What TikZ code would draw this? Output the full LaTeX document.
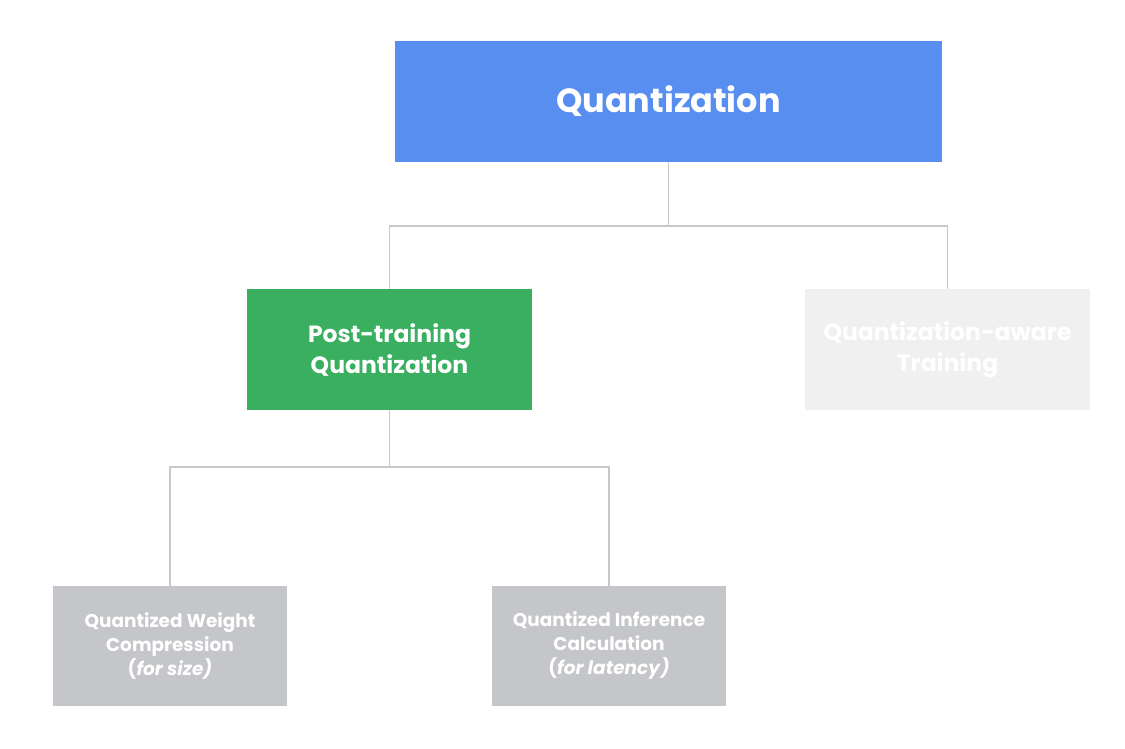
\documentclass[tikz,border=0pt]{standalone}
\usepackage{fontspec}
\setmainfont{Poppins}
\begin{document}
\begin{tikzpicture}[x=1pt,y=-1pt,
  box/.style={rectangle, inner sep=0pt, text=white, align=center, font=\bfseries},
  conn/.style={draw=linegray, line width=1.3pt}]
\definecolor{qblue}{HTML}{578EF0}
\definecolor{qgreen}{HTML}{3AAF5F}
\definecolor{qlight}{HTML}{F0F0F0}
\definecolor{qgray}{HTML}{C5C6C9}
\definecolor{linegray}{HTML}{C8C8C8}
\useasboundingbox[fill=white] (0,0) rectangle (1125,748);
\node[box, fill=qblue, minimum width=547pt, minimum height=121pt, font=\bfseries\fontsize{33.5}{38}\selectfont] (q) at (668.5,101.5) {\raisebox{-2pt}{Quantization}};
\node[box, fill=qgreen, minimum width=285pt, minimum height=121pt, font=\bfseries\fontsize{23.5}{31}\selectfont] (ptq) at (389.5,349.5) {\raisebox{-2pt}{Post-training}\\\raisebox{-2pt}{Quantization}};
\node[box, fill=qlight, minimum width=285pt, minimum height=121pt, font=\bfseries\fontsize{23.5}{31}\selectfont] (qat) at (947.5,349.5) {\raisebox{-2pt}{Quantization-aware}\\\raisebox{-2pt}{Training}};
\node[box, fill=qgray, minimum width=234pt, minimum height=120pt, font=\bfseries\fontsize{18.5}{24}\selectfont] (qwc) at (170,646) {Quantized Weight\\Compression\\{(\itshape for size\/)}};
\node[box, fill=qgray, minimum width=234pt, minimum height=120pt, font=\bfseries\fontsize{18.5}{24}\selectfont] (qic) at (609,646) {Quantized Inference\\Calculation\\{(\itshape for latency\/)}};
\coordinate (j1) at (668.5,226);
\coordinate (j2) at (389.5,467);
\draw[conn] (q.south) -- (j1);
\draw[conn] (ptq.north) |- (j1) -| (qat.north);
\draw[conn] (ptq.south) -- (j2);
\draw[conn] (qwc.north) |- (j2) -| (qic.north);
\end{tikzpicture}
\end{document}
